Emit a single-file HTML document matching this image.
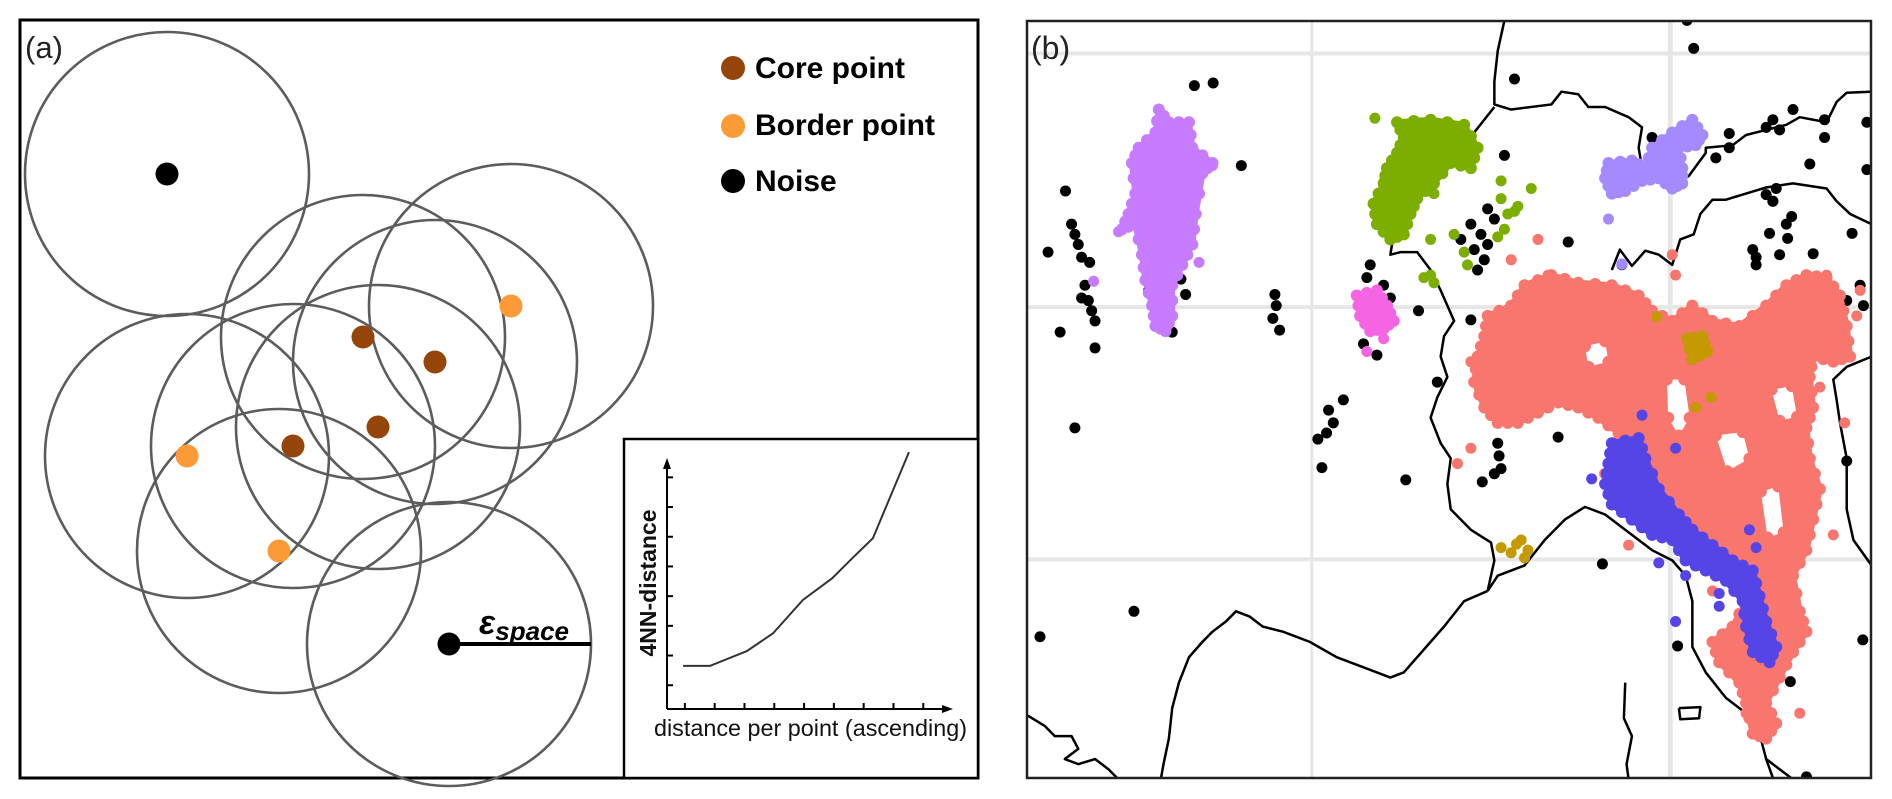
<!DOCTYPE html>
<html><head><meta charset="utf-8"><style>
html,body{margin:0;padding:0;background:#fff;}
svg{display:block;}
text{font-family:"Liberation Sans",sans-serif;}
</style></head><body>
<svg id="fig" width="1892" height="799" viewBox="0 0 1892 799" xmlns="http://www.w3.org/2000/svg">
<g id="panelA">
 <rect x="20" y="20" width="958" height="758" fill="#fff" stroke="#000" stroke-width="3"/>
 <text x="25" y="58" font-size="31" fill="#222">(a)</text>
 <g id="circles"></g>
 <g id="pts"></g>
 <line x1="449" y1="644" x2="591" y2="644" stroke="#000" stroke-width="4"/>
 <text x="479" y="634" font-size="34" font-weight="bold" font-style="italic" font-family="Liberation Serif, serif">ε<tspan font-size="26" dy="6">space</tspan></text>
 <g>
  <circle cx="733" cy="68" r="12" fill="#96450a"/>
  <text x="755" y="78" font-size="30" font-weight="bold">Core point</text>
  <circle cx="733" cy="126" r="12" fill="#fd9a38"/>
  <text x="755" y="135" font-size="30" font-weight="bold">Border point</text>
  <circle cx="733" cy="181" r="12" fill="#000"/>
  <text x="755" y="191" font-size="30" font-weight="bold">Noise</text>
 </g>
 <g id="inset">
  <rect x="624" y="439" width="354" height="339" fill="#fff" stroke="#000" stroke-width="2.5"/>
  <line x1="667" y1="709" x2="667" y2="464" stroke="#000" stroke-width="2"/>
  <polygon points="667,458 663,469 671,469" fill="#000"/>
  <line x1="667" y1="709" x2="946" y2="709" stroke="#000" stroke-width="2"/>
  <polygon points="953,709 942,705 942,713" fill="#000"/>
  <g id="insetTicks"></g>
  <path id="knnLine" fill="none" stroke="#333" stroke-width="2"/>
  <text transform="translate(656,583) rotate(-90)" text-anchor="middle" font-size="23" font-weight="bold" fill="#111">4NN-distance</text>
  <text x="654" y="736" font-size="23" textLength="313" lengthAdjust="spacingAndGlyphs" fill="#111">distance per point (ascending)</text>
 </g>
</g>
<g id="panelB">
 <clipPath id="mapclip"><rect x="1027" y="21" width="844" height="757"/></clipPath>
 <rect x="1027" y="21" width="844" height="757" fill="#fff"/>
 <g clip-path="url(#mapclip)">
  <g id="grid"></g>
  <g id="coast"></g>
  <g id="clusters"></g>
 </g>
 <rect x="1027" y="21" width="844" height="757" fill="none" stroke="#222" stroke-width="2.5"/>
 <text x="1031" y="59" font-size="32" fill="#222">(b)</text>
</g>
</svg>
<script>
const NS="http://www.w3.org/2000/svg";
// ---- panel (a) data ----
const coreX=[363,435,378,293], coreY=[337,362,427,446];
const borderX=[511,187,279], borderY=[306,456,551];
const noiseX=[167,449], noiseY=[174,644];
const epsR=142;
// ---- inset data (tick units) ----
const knnX=[0.54,1.44,2.68,3.56,4.56,5.54,6.24,6.91,8.12];
const knnY=[1.45,1.45,1.95,2.55,3.67,4.4,5.1,5.75,8.65];
const xTicks=[0.6,1.6,2.6,3.6,4.6,5.6,6.6,7.6,8.6];
const yTicks=[0.8,1.8,2.8,3.8,4.8,5.8,6.8,7.8];
// ---- panel (b) data (map units) ----
const gridLon=[703,1237], gridLat=[105,603,1098];
const noisePts=[[528,168],[556,163],[598,325],[336,375],[310,495],[328,652],[380,683],[350,840],[438,1200],[298,1250],[843,942],[718,918],[1005,155],[1272,95],[1262,40],[990,305],[1085,475],[1136,1107],[1248,1268],[1416,1338],[1524,1256],[1530,333],[1508,458],[1450,498],[1400,500],[1385,458],[1412,468],[1418,425],[890,750],[940,628],[957,946],[1070,858],[1385,967],[1350,1020],[1467,235],[1467,270],[1420,215],[1445,322],[1325,290],[1325,262],[1305,310],[1380,382],[1390,395],[1360,490],[1365,520],[1250,785],[1265,860],[1270,725],[1480,595],[1500,590],[1525,600],[1520,560],[1440,1525],[345,440],[350,460],[355,480],[360,505],[372,515],[365,560],[370,590],[375,610],[380,630],[360,585],[460,570],[468,600],[508,548],[515,578],[495,652],[648,578],[650,600],[645,625],[655,648],[728,805],[735,830],[725,850],[712,862],[750,785],[940,440],[955,460],[965,480],[945,490],[960,510],[975,430],[925,470],[950,530],[965,410],[790,520],[785,545],[810,560],[820,585],[815,610],[800,600],[780,675],[800,697],[862,610],[980,870],[982,895],[985,920],[975,930],[1390,235],[1400,255],[1380,250],[1395,370],[1390,395],[1410,440],[1365,505],[1210,270],[1240,280],[1530,240],[1350,1100],[1500,905],[1455,655]];
const salmonPts=[[1040,470],[1000,510],[1245,540],[1055,540],[1240,500],[940,880],[920,910],[1470,540],[1497,830],[1480,1050],[1175,1070],[1270,1070],[1300,1160],[1350,1400],[1430,1400],[1410,1230],[1390,1230],[940,710],[1010,820],[1515,620],[1520,570],[1460,760],[1370,1420]];
const salmonHull=[[965,620],[1000,600],[1020,560],[1060,540],[1100,555],[1150,560],[1190,580],[1210,610],[1240,630],[1270,600],[1300,630],[1340,640],[1380,600],[1410,560],[1440,540],[1470,545],[1490,580],[1500,640],[1505,700],[1480,710],[1450,700],[1445,740],[1450,800],[1440,840],[1445,900],[1460,960],[1450,1020],[1440,1080],[1420,1130],[1430,1200],[1440,1240],[1420,1280],[1400,1330],[1380,1380],[1395,1420],[1380,1450],[1360,1440],[1350,1380],[1340,1340],[1310,1300],[1300,1260],[1330,1230],[1350,1180],[1340,1130],[1300,1080],[1270,1030],[1240,1020],[1200,990],[1160,960],[1140,930],[1150,890],[1160,850],[1130,820],[1100,800],[1070,790],[1040,810],[1010,830],[980,830],[960,800],[945,750],[950,700],[960,660]];
const salmonHoles=[[[1110,680],[1140,670],[1145,710],[1115,720]],[[1232,745],[1258,745],[1266,820],[1250,855],[1234,820]],[[1305,855],[1345,848],[1355,900],[1322,925]],[[1388,765],[1418,758],[1426,818],[1400,826]],[[1372,965],[1398,955],[1406,1045],[1382,1055]]];
const blueHull=[[1150,870],[1190,860],[1200,900],[1220,960],[1250,1010],[1270,1040],[1300,1070],[1330,1100],[1360,1120],[1370,1170],[1380,1220],[1395,1270],[1385,1300],[1360,1280],[1350,1230],[1345,1180],[1320,1140],[1290,1120],[1260,1100],[1240,1060],[1210,1050],[1180,1020],[1150,990],[1140,950],[1145,910]];
const bluePts=[[1120,940],[1220,1105],[1260,1130],[1245,1220],[1310,1165],[1355,1040],[1365,1075],[1195,815],[1245,880],[1165,520],[1310,1190]];
const purpleHull=[[475,215],[490,240],[520,240],[525,290],[555,320],[540,340],[530,420],[525,480],[510,520],[495,560],[495,620],[485,650],[470,640],[465,600],[455,550],[450,500],[440,440],[420,450],[430,420],[440,380],[435,320],[445,290],[470,260]];
const purplePts=[[378,552],[415,455],[535,515],[555,325]];
const greenHull=[[830,240],[880,235],[930,245],[950,290],[940,330],[910,320],[885,360],[860,390],[850,420],[840,460],[820,470],[800,440],[795,400],[810,360],[815,330],[830,300],[840,270]];
const greenPts=[[797,232],[910,245],[985,355],[985,390],[1030,370],[1010,405],[995,420],[990,450],[980,465],[915,460],[880,470],[930,495],[935,520],[880,540],[885,555],[870,545],[1005,415],[885,380]];
const pinkHull=[[770,580],[800,570],[815,600],[825,630],[810,645],[790,650],[775,620]];
const pinkPts=[[810,665],[785,690]];
const lilacHull=[[1145,320],[1180,315],[1200,330],[1210,290],[1240,260],[1270,235],[1285,265],[1275,285],[1250,290],[1255,330],[1255,360],[1240,370],[1220,350],[1195,355],[1170,375],[1150,380],[1140,350]];
const lilacPts=[[1145,430],[1165,518]];
const goldHull=[[1262,665],[1285,660],[1292,690],[1270,705]];
const goldPts=[[1275,800],[1298,780],[1217,622],[985,1075],[1000,1085],[1015,1060],[1025,1080],[1020,1095],[1008,1068]];
const coastLines=[
[[990,40],[980,100],[975,160],[975,205],[1000,215],[1060,205],[1075,180],[1100,185],[1115,210],[1140,210],[1175,230],[1195,250],[1190,290],[1195,330],[1215,340],[1250,360],[1265,345],[1290,300],[1290,290],[1330,285],[1350,265],[1380,255],[1410,245],[1430,230],[1470,240],[1485,200],[1500,182],[1537,180]],
[[975,210],[945,260],[905,310],[880,350],[860,385],[840,420],[825,460],[820,500],[835,495],[860,495],[880,530],[895,570],[905,600],[915,630],[900,660],[895,700],[905,740],[890,780],[880,820],[895,870],[910,900],[905,950],[910,1000],[940,1040],[970,1065],[975,1100],[965,1160]],
[[965,1160],[980,1130],[1020,1110],[1050,1060],[1080,1020],[1110,995],[1140,1010],[1180,1050],[1210,1080],[1240,1100],[1260,1130],[1270,1180],[1270,1270],[1290,1320],[1320,1370],[1350,1400],[1370,1440],[1380,1490],[1390,1527]],
[[965,1160],[930,1180],[900,1230],[880,1260],[860,1290],[840,1320],[820,1330],[780,1310],[740,1290],[700,1260],[660,1240],[630,1230],[610,1210],[590,1200],[575,1220],[555,1240],[540,1260],[520,1290],[505,1340],[495,1390],[490,1450],[482,1500],[478,1530]],
[[280,1405],[305,1425],[320,1445],[345,1445],[355,1470],[335,1490],[355,1500],[380,1490],[400,1510],[415,1530]],
[[1537,440],[1505,420],[1485,395],[1470,370],[1420,360],[1380,368],[1350,380],[1320,392],[1300,392],[1282,420],[1272,460],[1252,470],[1240,520],[1220,500],[1200,492],[1180,522],[1162,490],[1150,530]],
[[1537,700],[1500,720],[1480,745],[1485,785],[1490,830],[1500,900],[1500,1000],[1510,1060],[1537,1110]],
[[1170,1340],[1168,1410],[1180,1445],[1172,1500],[1175,1530]],
[[1250,1390],[1282,1388],[1280,1410],[1252,1412],[1250,1390]],
[[1380,1490],[1400,1510],[1420,1530]]
];
// ---- scales ----
function aInX(u){return 667+u*29.8;}
function aInY(u){return 709-u*29.7;}
function mapX(u){return 840+u/1.49;}
function mapY(u){return u/1.963;}
function mk(tag,parent,attrs){const e=document.createElementNS(NS,tag);for(const k in attrs)e.setAttribute(k,attrs[k]);parent.appendChild(e);return e;}
// panel a
const cG=document.getElementById('circles'), pG=document.getElementById('pts');
const allX=noiseX.concat(coreX,borderX), allY=noiseY.concat(coreY,borderY);
for(let i=0;i<allX.length;i++){
 const c=mk('circle',cG,{cx:allX[i],cy:allY[i],r:epsR,fill:'none',stroke:'#5c5c5c','stroke-width':2.6});
 
 
}
function dots(xs,ys,col,name){for(let i=0;i<xs.length;i++){const d=mk('circle',pG,{cx:xs[i],cy:ys[i],r:11.5,fill:col});
 
 }}
dots(coreX,coreY,'#96450a','core-point');
dots(borderX,borderY,'#fd9a38','border-point');
dots(noiseX,noiseY,'#000','noise-point');
// inset
const tG=document.getElementById('insetTicks');
xTicks.forEach(t=>{const l=mk('line',tG,{x1:aInX(t),x2:aInX(t),y1:709,y2:703,stroke:'#000','stroke-width':2});
 
 });
yTicks.forEach(t=>{const l=mk('line',tG,{x1:667,x2:673,y1:aInY(t),y2:aInY(t),stroke:'#000','stroke-width':2});
 
 });
document.getElementById('knnLine').setAttribute('d',knnX.map((v,i)=>(i?'L':'M')+aInX(v)+','+aInY(knnY[i])).join(' '));
// panel b
const gG=document.getElementById('grid');
gridLon.forEach(v=>{const l=mk('line',gG,{x1:mapX(v),x2:mapX(v),y1:21,y2:778,stroke:'#e6e6e6','stroke-width':v>1000?5:3});
 
 });
gridLat.forEach(v=>{const l=mk('line',gG,{x1:1027,x2:1871,y1:mapY(v),y2:mapY(v),stroke:'#e6e6e6','stroke-width':4});
 
 });
const coG=document.getElementById('coast');
coastLines.forEach(ln=>{const p=mk('polyline',coG,{points:ln.map(q=>mapX(q[0])+','+mapY(q[1])).join(' '),fill:'none',stroke:'#000','stroke-width':2.5,'stroke-linejoin':'round'});
 
 });
const clG=document.getElementById('clusters');
function edgeDots(pts,col,name){
 for(let i=0;i<pts.length;i++){
  const a=pts[i], b=pts[(i+1)%pts.length];
  [[a[0],a[1]],[(a[0]+b[0])/2,(a[1]+b[1])/2]].forEach(q=>{
   const d=mk('circle',clG,{cx:mapX(q[0]),cy:mapY(q[1]),r:6,fill:col});
   
   
  });
 }
}
function hull(pts,col,name){const p=mk('polygon',clG,{points:pts.map(q=>mapX(q[0])+','+mapY(q[1])).join(' '),fill:col,stroke:col,'stroke-width':6,'stroke-linejoin':'round'});
 
 
 edgeDots(pts,col,name+'-point');}
function pts(arr,col,name){arr.forEach(q=>{const d=mk('circle',clG,{cx:mapX(q[0]),cy:mapY(q[1]),r:5.5,fill:col});
 
 });}
pts(noisePts,'#000','noise-point');
hull(salmonHull,'#f8766d','cluster-salmon-area');
salmonHoles.forEach(h=>{const p=mk('polygon',clG,{points:h.map(q=>mapX(q[0])+','+mapY(q[1])).join(' '),fill:'#fff'});
 
 
 h.forEach(q=>{const d=mk('circle',clG,{cx:mapX(q[0]),cy:mapY(q[1]),r:6,fill:'#f8766d'});
  
  });});
pts(salmonPts,'#f8766d','cluster-salmon-point');
hull(blueHull,'#5544e6','cluster-blue-area');
pts(bluePts,'#5544e6','cluster-blue-point');
hull(purpleHull,'#c77cff','cluster-purple-area');
pts(purplePts,'#c77cff','cluster-purple-point');
hull(greenHull,'#7cae00','cluster-green-area');
pts(greenPts,'#7cae00','cluster-green-point');
hull(pinkHull,'#f564e3','cluster-pink-area');
pts(pinkPts,'#f564e3','cluster-pink-point');
hull(lilacHull,'#a58aff','cluster-lilac-area');
pts(lilacPts,'#a58aff','cluster-lilac-point');
hull(goldHull,'#c49a00','cluster-gold-area');
pts(goldPts,'#c49a00','cluster-gold-point');
</script>
</body></html>
